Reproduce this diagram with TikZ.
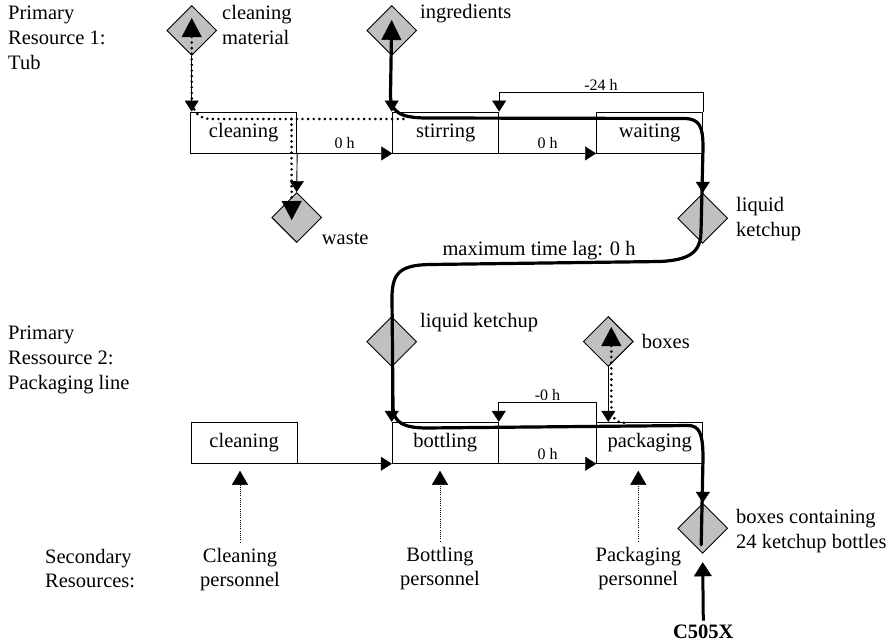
\documentclass[tikz,border=0pt]{standalone}
\usepackage{fontspec}
\setmainfont{Liberation Serif}
\usetikzlibrary{arrows.meta,shapes.geometric,calc}
\definecolor{diagray}{RGB}{192,192,192}
\newcommand\bigf{\fontsize{20.5}{24.8}\selectfont}
\newcommand\smallf{\fontsize{16}{19}\selectfont}
\begin{document}
\begin{tikzpicture}[x=1pt,y=-1pt,
  box/.style={draw, line width=0.9pt, minimum width=106pt, minimum height=41pt, inner sep=0pt, font=\bigf},
  dia/.style={diamond, draw, fill=diagray, line width=0.9pt, minimum width=50pt, minimum height=50pt, inner sep=0pt},
  lbl/.style={font=\bigf, inner sep=0pt, align=left},
  ctr/.style={font=\bigf, inner sep=0pt, align=center},
  sml/.style={font=\smallf, inner sep=0pt},
  thinarr/.style={line width=0.9pt, -{Triangle[width=14pt,length=11pt,line width=0.4pt]}},
  peg/.style={line width=3.2pt, line cap=round, line join=round},
  dotp/.style={line width=2.9pt, line cap=round, dash pattern=on 0pt off 5.6pt},
  uptip/.style={{Triangle[width=20pt,length=19pt,line width=0.4pt]}-},
  downtip/.style={-{Triangle[width=20pt,length=19pt,line width=0.4pt]}},
  secarr/.style={line width=0.6pt, dash pattern=on 1pt off 1.2pt, -{Triangle[width=16pt,length=14pt,line width=0.4pt]}}
]
\useasboundingbox (0,0) rectangle (893,643);

% resource labels
\node[lbl, anchor=west] (r1) at (8,38) {Primary\\Resource 1:\\Tub};
\node[lbl, anchor=west] (r2) at (8,360) {Primary\\Ressource 2:\\Packaging line};
\node[lbl, anchor=west] (sr) at (45,568.5) {Secondary\\Resources:};

% boxes
\node[box] (tclean) at (243.7,132.5) {cleaning};
\node[box] (stir) at (445.7,132.5) {stirring};
\node[box] (wait) at (649.5,132.5) {waiting};
\node[box] (bclean) at (244.2,442.8) {cleaning};
\node[box] (bottle) at (445.3,442.8) {bottling};
\node[box] (pack) at (649.7,442.8) {packaging};

% diamonds
\node[dia] (cm) at (191.7,30.5) {};
\node[dia] (ing) at (391.7,30.5) {};
\node[dia] (waste) at (296.7,217.5) {};
\node[dia] (lk1) at (702.7,218.3) {};
\node[dia] (lk2) at (391.7,341.7) {};
\node[dia] (bx) at (608.3,341.5) {};
\node[dia] (bc) at (702.7,528.3) {};

% diamond labels
\node[lbl, anchor=west] (cmt) at (222,25) {cleaning\\material};
\node[lbl, anchor=west] (ingt) at (420,13.5) {ingredients};
\node[lbl, anchor=west] (wastet) at (321.7,238.5) {waste};
\node[lbl, anchor=west] (lk1t) at (736,219) {liquid\\ketchup};
\node[lbl, anchor=west] (lk2t) at (420,323) {liquid ketchup};
\node[lbl, anchor=west] (bxt) at (641.7,341.7) {boxes};
\node[lbl, anchor=west] (bct) at (736,531) {boxes containing\\24 ketchup bottles};
\node[ctr] (mtl) at (539,251) {maximum time lag: 0 h};
\node[ctr, font=\bigf\bfseries] (c505) at (703.3,631.7) {C505X};

% personnel
\node[ctr] (cp) at (240,569.5) {Cleaning\\personnel};
\node[ctr] (bp) at (440,568.5) {Bottling\\personnel};
\node[ctr] (pp) at (638.3,568.5) {Packaging\\personnel};

% time lag arrows
\draw[thinarr] (tclean.south east) -- node[sml, above=4pt] (l1) {0 h} (stir.south west);
\draw[thinarr] (stir.south east) -- node[sml, above=4pt] (l2) {0 h} (wait.south west);
\draw[thinarr] (wait.north east) -- ++(0,-19) -| node[sml, pos=0.25, above=1.5pt] (l3) {-24 h} (stir.north east);
\draw[thinarr] (bclean.south east) -- (bottle.south west);
\draw[thinarr] (bottle.south east) -- node[sml, above=4pt] (l4) {0 h} (pack.south west);
\draw[thinarr] (pack.north west) -- ++(0,-19) -| node[sml, pos=0.25, above=1.5pt] (l5) {-0 h} (bottle.north east);

% material flow arrows
\draw[thinarr] (cm.south) -- (cm.south |- tclean.north);
\draw[thinarr] (ing.south) -- (ing.south |- stir.north);
\draw[thinarr] (tclean.south east) -- (waste.north);
\draw[thinarr] (wait.south east) -- (lk1.north);
\draw[thinarr] (lk2.south) -- (lk2.south |- bottle.north);
\draw[thinarr] (bx.south) -- (bx.south |- pack.north);
\draw[thinarr] (pack.south east) -- (bc.north);

% dotted pegging (cleaning)
\draw[dotp, uptip] ($(cm.center)+(0,-12.5)$) -- (191.7,95)
  .. controls (192,112) and (198,119) .. (212,119) -- (405,119);
\draw[dotp, downtip] (291.5,119) -- ($(waste.center)+(-5,2.5)$);

% dotted pegging (boxes)
\draw[dotp, uptip] ($(bx.center)+(3,-14.5)$) -- (611.3,402)
  .. controls (611.3,418) and (615,423) .. (626,423);

% thick pegging path
\draw[peg, {Triangle[width=20pt,length=20pt,line width=0.4pt]}-] ($(ing.center)+(0,-10.5)$) -- (390.5,95)
  .. controls (390.5,112) and (400,117.5) .. (425,118)
  -- (685,118.5) .. controls (700,119) and (703,127) .. (703,148)
  -- (701,232) .. controls (700.5,252) and (690,260) .. (660,261.5)
  -- (430,264.5) .. controls (400,265) and (392,273) .. (392,298)
  -- (393,408) .. controls (394,423) and (404,427.5) .. (425,428)
  -- (688,425.5) .. controls (699,425.5) and (703,433) .. (703,458)
  -- ($(bc.center)+(-1.5,16.5)$);

% C505X arrow
\draw[line width=3pt, -{Triangle[width=18pt,length=14pt,line width=0.4pt]}] ($(c505.north)+(0,-4)$) -- ($(bc.south)+(0,8.5)$);

% secondary resources
\draw[secarr] ($(cp.north)+(0,-5)$) -- ($(cp.north |- bclean.south)+(0,7)$);
\draw[secarr] ($(bp.north)+(0,-5)$) -- ($(bp.north |- bottle.south)+(0,7)$);
\draw[secarr] ($(pp.north)+(0,-5)$) -- ($(pp.north |- pack.south)+(0,7)$);
\end{tikzpicture}
\end{document}
